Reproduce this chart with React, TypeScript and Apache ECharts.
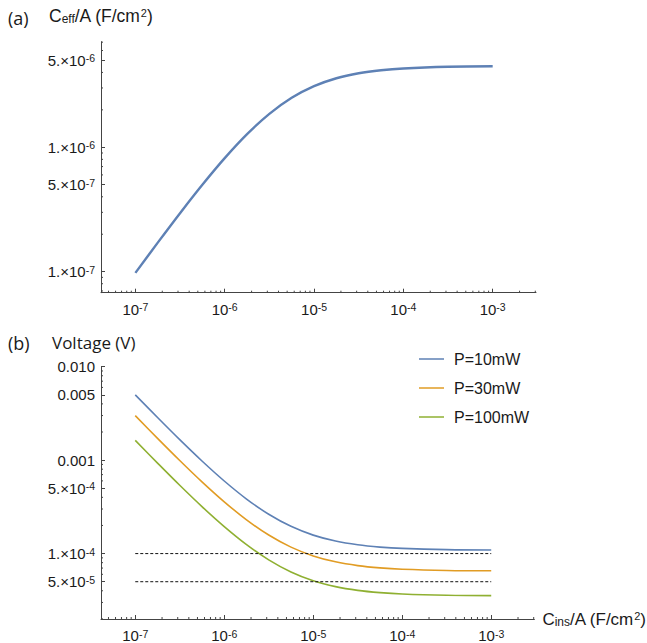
import React, { useEffect, useRef } from "react";
import * as echarts from "echarts";

// ---- data ----
const cIns = [1e-7, 1.78e-7, 3.16e-7, 5.62e-7, 1e-6, 1.78e-6, 3.16e-6, 5.62e-6, 1e-5, 1.78e-5, 3.16e-5, 5.62e-5, 1e-4, 3.16e-4, 1e-3];
const cEff = [0.978e-7, 1.712e-7, 2.953e-7, 4.996e-7, 8.18e-7, 1.275e-6, 1.856e-6, 2.499e-6, 3.103e-6, 3.592e-6, 3.939e-6, 4.166e-6, 4.306e-6, 4.437e-6, 4.48e-6];
const vP10 = [5.0e-3, 2.856e-3, 1.656e-3, 9.79e-4, 5.98e-4, 3.835e-4, 2.635e-4, 1.957e-4, 1.576e-4, 1.361e-4, 1.241e-4, 1.174e-4, 1.136e-4, 1.102e-4, 1.092e-4];
const vP30 = [2.996e-3, 1.711e-3, 9.92e-4, 5.86e-4, 3.58e-4, 2.298e-4, 1.579e-4, 1.172e-4, 9.44e-5, 8.16e-5, 7.44e-5, 7.03e-5, 6.8e-5, 6.6e-5, 6.54e-5];
const vP100 = [1.626e-3, 9.29e-4, 5.38e-4, 3.18e-4, 1.944e-4, 1.247e-4, 8.57e-5, 6.36e-5, 5.12e-5, 4.43e-5, 4.04e-5, 3.82e-5, 3.69e-5, 3.58e-5, 3.55e-5];
const refLevels = [1e-4, 5e-5];
const refRange = [1e-7, 1e-3];
const legendNames = ["P=10mW", "P=30mW", "P=100mW"];
const seriesColors = ["#5E81B5", "#E19C24", "#8FB032"];

const xTickValues = [1e-7, 1e-6, 1e-5, 1e-4, 1e-3];
const xTickTexts = ["{b|10}{s|-7}", "{b|10}{s|-6}", "{b|10}{s|-5}", "{b|10}{s|-4}", "{b|10}{s|-3}"];
const topYTickValues = [1e-7, 5e-7, 1e-6, 5e-6];
const topYTickTexts = ["{b|1.\u00d710}{s|-7}", "{b|5.\u00d710}{s|-7}", "{b|1.\u00d710}{s|-6}", "{b|5.\u00d710}{s|-6}"];
const botYTickValues = [5e-5, 1e-4, 5e-4, 1e-3, 5e-3, 1e-2];
const botYTickTexts = ["{b|5.\u00d710}{s|-5}", "{b|1.\u00d710}{s|-4}", "{b|5.\u00d710}{s|-4}", "{b|0.001}", "{b|0.005}", "{b|0.010}"];

// axis extents (log10)
const xRange = [-7.385, -2.515];
const topYRange = [-7.169, -5.151];
const botYRange = [-4.7, -2.0];

const FONT = "Liberation Sans";
const HUM = "Open Sans";
const AX = "#444";
const TXT = "#1a1a1a";

const lg = (v: number) => Math.log10(v);

function minorTicks(range: number[], majors: number[]) {
  const out: number[] = [];
  for (let d = -9; d <= -1; d++) {
    for (let k = 1; k <= 9; k++) {
      const v = Math.log10(k) + d;
      if (v < range[0] || v > range[1]) continue;
      if (majors.some((m) => Math.abs(lg(m) - v) < 1e-6)) continue;
      out.push(v);
    }
  }
  return out;
}

const rich = {
  b: { fontSize: 15, fontFamily: FONT, color: TXT },
  s: { fontSize: 10.5, fontFamily: FONT, color: TXT, verticalAlign: "top" as const },
};

function labelFmt(values: number[], texts: string[]) {
  return (v: number) => {
    let best = 0;
    let bd = Infinity;
    values.forEach((x, i) => {
      const d = Math.abs(lg(x) - v);
      if (d < bd) {
        bd = d;
        best = i;
      }
    });
    return texts[best];
  };
}

function xAxisCfg(gridIndex: number, withName: boolean) {
  return {
    type: "value",
    gridIndex,
    min: xRange[0],
    max: xRange[1],
    axisLine: { show: true, onZero: false, lineStyle: { color: AX, width: 1 } },
    axisTick: { show: true, inside: true, length: 4, customValues: xTickValues.map(lg), lineStyle: { color: AX } },
    axisLabel: { show: true, fontFamily: FONT, customValues: xTickValues.map(lg), formatter: labelFmt(xTickValues, xTickTexts), rich, margin: 9 },
    splitLine: { show: false },
    name: withName ? "{c|C}{d|ins}{c|/A (F/cm}{e|2}{c|)}" : "",
    nameLocation: "end",
    nameGap: 8,
    nameTextStyle: {
      align: "left",
      verticalAlign: "middle",
      fontFamily: FONT,
      rich: {
        c: { fontSize: 17, fontFamily: FONT, color: TXT },
        d: { fontSize: 12, fontFamily: FONT, color: TXT, verticalAlign: "bottom" },
        e: { fontSize: 11, fontFamily: FONT, color: TXT, verticalAlign: "top" },
      },
    },
  };
}

function yAxisCfg(gridIndex: number, range: number[], values: number[], texts: string[]) {
  return {
    type: "value",
    gridIndex,
    min: range[0],
    max: range[1],
    axisLine: { show: true, onZero: false, lineStyle: { color: AX, width: 1 } },
    axisTick: { show: true, inside: true, length: 4, customValues: values.map(lg), lineStyle: { color: AX } },
    axisLabel: { show: true, fontFamily: FONT, customValues: values.map(lg), formatter: labelFmt(values, texts), rich, margin: 6 },
    splitLine: { show: false },
  };
}

function minorXSeries(gridIdx: number, yMin: number, majors: number[]) {
  return {
    type: "custom",
    xAxisIndex: gridIdx,
    yAxisIndex: gridIdx,
    clip: false,
    silent: true,
    data: minorTicks(xRange, majors).map((v) => [v, yMin]),
    renderItem: (params: any, api: any) => {
      const p = api.coord([api.value(0), yMin]);
      return { type: "line", shape: { x1: p[0], y1: p[1], x2: p[0], y2: p[1] - 2 }, style: { stroke: AX, lineWidth: 1 } };
    },
  };
}

function minorYSeries(gridIdx: number, range: number[], majors: number[]) {
  return {
    type: "custom",
    xAxisIndex: gridIdx,
    yAxisIndex: gridIdx,
    clip: false,
    silent: true,
    data: minorTicks(range, majors).map((v) => [xRange[0], v]),
    renderItem: (params: any, api: any) => {
      const p = api.coord([xRange[0], api.value(1)]);
      return { type: "line", shape: { x1: p[0], y1: p[1], x2: p[0] + 2, y2: p[1] }, style: { stroke: AX, lineWidth: 1 } };
    },
  };
}

export default function App() {
  const ref = useRef<HTMLDivElement>(null);
  useEffect(() => {
    if (!ref.current) return;
    const chart = echarts.init(ref.current, undefined, { renderer: "svg" });
    const voltage = [vP10, vP30, vP100];
    const option: any = {
      animation: false,
      backgroundColor: "#ffffff",
      textStyle: { fontFamily: FONT },
      grid: [
        { left: 101, top: 41.7, width: 435, height: 251, containLabel: false },
        { left: 101, top: 366.7, width: 435, height: 254, containLabel: false },
      ],
      xAxis: [xAxisCfg(0, false), xAxisCfg(1, true)],
      yAxis: [
        yAxisCfg(0, topYRange, topYTickValues, topYTickTexts),
        yAxisCfg(1, botYRange, botYTickValues, botYTickTexts),
      ],
      legend: {
        orient: "vertical",
        left: 419,
        top: 351,
        padding: 0,
        itemGap: 13,
        itemWidth: 25,
        itemHeight: 1.5,
        icon: "rect",
        data: legendNames,
        textStyle: { fontSize: 16, fontFamily: FONT, color: TXT, padding: [0, 0, 0, 5] },
      },
      graphic: [
        { type: "text", left: 8, top: 9, style: { text: "(a)", fontSize: 18, fontFamily: HUM, fill: TXT } },
        {
          type: "text",
          left: 49,
          top: 7,
          style: {
            text: "{c|C}{d|eff}{c|/A (F/cm}{e|2}{c|)}",
            rich: {
              c: { fontSize: 17.5, fontFamily: FONT, fill: TXT },
              d: { fontSize: 12, fontFamily: FONT, fill: TXT, verticalAlign: "bottom" },
              e: { fontSize: 11, fontFamily: FONT, fill: TXT, verticalAlign: "top" },
            },
          },
        },
        { type: "text", left: 8, top: 334, style: { text: "(b)", fontSize: 18, fontFamily: HUM, fill: TXT } },
        { type: "text", left: 52, top: 334, style: { text: "Voltage (V)", fontSize: 17, fontFamily: HUM, fill: TXT } },
      ],
      series: [
        {
          type: "line",
          xAxisIndex: 0,
          yAxisIndex: 0,
          smooth: 0.35,
          symbol: "none",
          lineStyle: { color: seriesColors[0], width: 2.4 },
          data: cIns.map((x, i) => [lg(x), lg(cEff[i])]),
        },
        ...voltage.map((arr, s) => ({
          type: "line",
          name: legendNames[s],
          xAxisIndex: 1,
          yAxisIndex: 1,
          smooth: 0.35,
          symbol: "none",
          color: seriesColors[s],
          lineStyle: { color: seriesColors[s], width: 1.6 },
          data: cIns.map((x, i) => [lg(x), lg(arr[i])]),
        })),
        ...refLevels.map((lv) => ({
          type: "line",
          xAxisIndex: 1,
          yAxisIndex: 1,
          symbol: "none",
          lineStyle: { color: "#111", width: 1, type: [3, 2] },
          data: refRange.map((x) => [lg(x), lg(lv)]),
        })),
        minorXSeries(0, topYRange[0], xTickValues),
        minorYSeries(0, topYRange, topYTickValues),
        minorXSeries(1, botYRange[0], xTickValues),
        minorYSeries(1, botYRange, botYTickValues),
      ],
    };
    chart.setOption(option);
    return () => chart.dispose();
  }, []);
  return <div ref={ref} style={{ position: "absolute", left: 0, top: 0, width: 647, height: 643 }} />;
}
